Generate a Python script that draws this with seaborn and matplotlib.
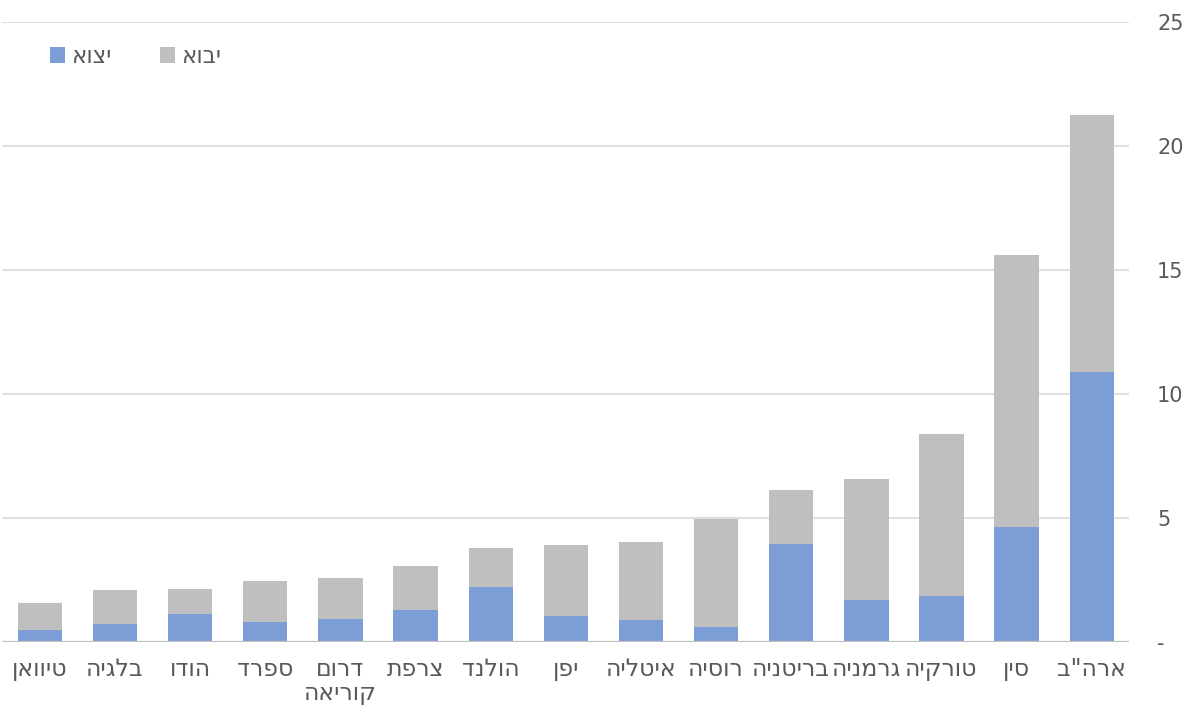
import matplotlib
matplotlib.use("Agg")
import matplotlib.pyplot as plt
import seaborn as sns
import pandas as pd
import numpy as np
from matplotlib.patches import Patch

# Data (logical Hebrew order)
countries = ['ארה"ב', 'סין', 'טורקיה', 'גרמניה', 'בריטניה', 'רוסיה', 'איטליה',
             'יפן', 'הולנד', 'צרפת', 'דרום קוריאה', 'ספרד', 'הודו', 'בלגיה', 'טיוואן']
exports = [10.9, 4.65, 1.86, 1.70, 3.96, 0.61, 0.90, 1.06, 2.23, 1.30, 0.93, 0.82, 1.14, 0.73, 0.48]
imports = [10.36, 10.97, 6.54, 4.87, 2.18, 4.35, 3.15, 2.84, 1.54, 1.76, 1.65, 1.64, 0.99, 1.36, 1.11]
series_names = ['יצוא', 'יבוא']
y_ticks = [0, 5, 10, 15, 20, 25]
y_tick_labels = ['-', '5', '10', '15', '20', '25']

BLUE = '#7C9DD5'
GRAY = '#BFBFBF'
TXT = '#595959'

def vis(s):
    # visual (LTR render) form of a Hebrew string, line by line
    return "\n".join(line[::-1] for line in s.split("\n"))

df = pd.DataFrame({
    'country': countries,
    'export': exports,
    'import': imports,
})
df['total'] = df['export'] + df['import']

sns.set_theme(style="white")
plt.rcParams['font.family'] = ['DejaVu Sans']

fig = plt.figure(figsize=(11.9, 7.13), dpi=100)
ax = fig.add_axes([0.002, 0.0996, 0.947, 0.8696])

sns.barplot(data=df, x='country', y='total', color=GRAY, width=0.59,
            saturation=1, ax=ax, zorder=2, edgecolor='none')
sns.barplot(data=df, x='country', y='export', color=BLUE, width=0.59,
            saturation=1, ax=ax, zorder=3, edgecolor='none')

ax.set_xlim(len(countries) - 0.5, -0.5)  # right-to-left
ax.set_ylim(0, 25)

ax.yaxis.tick_right()
ax.set_yticks(y_ticks)
ax.set_yticklabels(y_tick_labels)
ax.tick_params(axis='y', length=0, pad=20, labelsize=15, labelcolor=TXT)
for lab in ax.get_yticklabels():
    lab.set_horizontalalignment('left')

xt_labels = [vis(c.replace(' ', '\n')) for c in countries]
ax.set_xticks(range(len(countries)))
ax.set_xticklabels(xt_labels, fontsize=17, color=TXT, linespacing=1.0, va='top')
ax.tick_params(axis='x', length=0, pad=11)

ax.set_xlabel('')
ax.set_ylabel('')

for y in y_ticks[1:]:
    ax.axhline(y, color='#D9D9D9', lw=1.2, zorder=1)
ax.axhline(0, color='#BFBFBF', lw=1.6, zorder=4)

for s in ax.spines.values():
    s.set_visible(False)

handles = [Patch(facecolor=BLUE, edgecolor='none'), Patch(facecolor=GRAY, edgecolor='none')]
leg = ax.legend(handles, [vis(n) for n in series_names], ncol=2, frameon=False,
                loc='upper left', bbox_to_anchor=(0.024, 0.996), fontsize=16.5,
                handlelength=0.65, handleheight=0.65, handletextpad=0.3, columnspacing=2.1)
for t in leg.get_texts():
    t.set_color(TXT)

fig.savefig('out.png', dpi=100, facecolor='white')
